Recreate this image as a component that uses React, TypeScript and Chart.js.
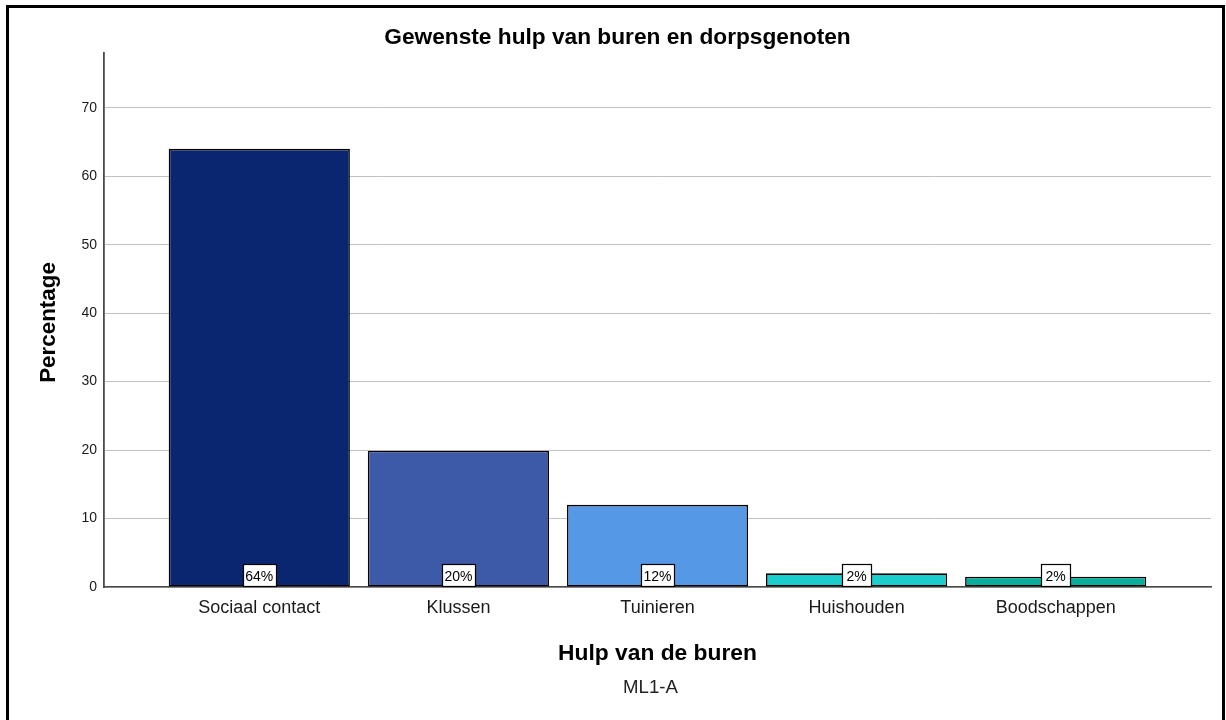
import React, { useEffect, useRef } from "react";
import { Chart, registerables } from "chart.js";

Chart.register(...registerables);

const categories = ["Sociaal contact", "Klussen", "Tuinieren", "Huishouden", "Boodschappen"];
const percentages = [64.0, 19.9, 12.0, 2.0, 1.5];
const valueLabels = ["64%", "20%", "12%", "2%", "2%"];
const barColors = ["#0B2670", "#3D5AA8", "#5598E5", "#1CCDCD", "#0AAE9C"];
const yTicks = [0, 10, 20, 30, 40, 50, 60, 70];
const chartTitle = "Gewenste hulp van buren en dorpsgenoten";
const xAxisTitle = "Hulp van de buren";
const yAxisTitle = "Percentage";
const footnote = "ML1-A";

const FONT = "'Liberation Sans', Arial, Helvetica, sans-serif";

const textPlugin = {
  id: "spssTexts",
  afterDatasetsDraw(chart: any) {
    const ctx = chart.ctx;
    const meta = chart.getDatasetMeta(0);
    const area = chart.chartArea;
    ctx.save();
    ctx.font = `14px ${FONT}`;
    meta.data.forEach((el: any, i: number) => {
      const t = valueLabels[i];
      const w = Math.round(Math.max(ctx.measureText(t).width + 5, 29));
      const h = 22;
      const x = Math.round(el.x - w / 2) + 0.5;
      const y = Math.round(area.bottom) - h - 0.5;
      ctx.fillStyle = "#ffffff";
      ctx.fillRect(x, y, w, h);
      ctx.strokeStyle = "#000000";
      ctx.lineWidth = 1.2;
      ctx.strokeRect(x, y, w, h);
      ctx.fillStyle = "#000000";
      ctx.textAlign = "center";
      ctx.textBaseline = "alphabetic";
      ctx.fillText(t, el.x, y + h / 2 + 5.5);
    });
    ctx.restore();
  },
  afterDraw(chart: any) {
    const ctx = chart.ctx;
    const area = chart.chartArea;
    const cx = (area.left + area.right) / 2;
    const cy = (area.top + area.bottom) / 2;
    ctx.save();
    ctx.fillStyle = "#000000";
    ctx.textAlign = "center";
    ctx.textBaseline = "alphabetic";
    ctx.font = `bold 22.7px ${FONT}`;
    ctx.fillText(chartTitle, chart.width / 2 + 2, 35.7);
    ctx.font = `bold 22.8px ${FONT}`;
    ctx.fillText(xAxisTitle, cx, 651.7);
    ctx.fillStyle = "#222222";
    ctx.font = `18.6px ${FONT}`;
    ctx.fillText(footnote, cx - 7, 685.2);
    ctx.fillStyle = "#000000";
    ctx.font = `bold 22.4px ${FONT}`;
    ctx.translate(46, cy + 2.5);
    ctx.rotate(-Math.PI / 2);
    ctx.fillText(yAxisTitle, 0, 0);
    ctx.restore();
  },
};

export default function App() {
  const ref = useRef<HTMLCanvasElement | null>(null);
  useEffect(() => {
    if (!ref.current) return;
    const chart = new Chart(ref.current, {
      type: "bar",
      data: {
        datasets: [
          {
            data: categories.map((_, i) => ({ x: i, y: percentages[i] })) as any,
            backgroundColor: barColors,
            borderColor: "#000000",
            borderWidth: 1.6,
            borderSkipped: false,
            categoryPercentage: 1,
            barPercentage: 0.91,
          },
        ],
      },
      options: {
        animation: false,
        responsive: false,
        maintainAspectRatio: false,
        events: [],
        layout: { padding: { top: 45, right: 11, bottom: 0, left: 0 } },
        plugins: {
          legend: { display: false },
          title: { display: false },
          tooltip: { enabled: false },
        },
        scales: {
          x: {
            type: "linear",
            offset: false,
            bounds: "data",
            min: -0.78,
            max: 4.78,
            afterBuildTicks: (s: any) => {
              s.ticks = categories.map((_, i) => ({ value: i }));
            },
            afterFit: (s: any) => {
              s.height = 133;
            },
            grid: { display: false, drawTicks: false, offset: false },
            border: { display: true, color: "#4a4a4a", width: 1.6 },
            ticks: {
              callback: (v: any) => categories[v] ?? "",
              font: { size: 18, family: FONT },
              color: "#1a1a1a",
              padding: 10,
              maxRotation: 0,
              autoSkip: false,
            },
          },
          y: {
            min: 0,
            max: 78,
            afterBuildTicks: (s: any) => {
              s.ticks = yTicks.map((v) => ({ value: v }));
            },
            afterFit: (s: any) => {
              s.width = 95;
            },
            grid: { color: "#c0c0c0", lineWidth: 1, drawTicks: false },
            border: { display: true, color: "#4a4a4a", width: 1.8 },
            ticks: {
              font: { size: 14, family: FONT },
              color: "#1a1a1a",
              padding: 7,
            },
          },
        },
      },
      plugins: [textPlugin],
    } as any);
    return () => chart.destroy();
  }, []);

  return (
    <div
      style={{
        position: "absolute",
        left: 6,
        top: 5,
        width: 1219,
        height: 720,
        border: "3px solid #000",
        boxSizing: "border-box",
        background: "#fff",
      }}
    >
      <canvas ref={ref} width={1213} height={712} style={{ display: "block", width: 1213, height: 712 }} />
    </div>
  );
}
